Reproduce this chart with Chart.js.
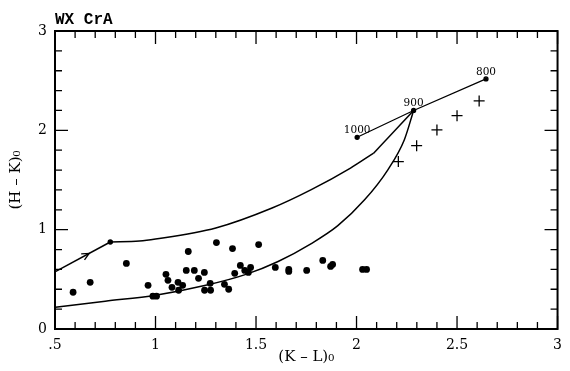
<!DOCTYPE html>
<html>
<head>
<meta charset="utf-8">
<script src="https://cdn.jsdelivr.net/npm/chart.js@4.4.1/dist/chart.umd.min.js"></script>
<style>
  html, body { margin: 0; padding: 0; background: #fff; }
  canvas { display: block; }
</style>
</head>
<body>
<canvas id="chart" width="570" height="371"></canvas>
<script>
// observed colours (filled dots)
const dotKL = [0.59, 0.675, 0.855, 0.963, 0.987, 1.005, 1.052, 1.062, 1.082, 1.112,
               1.115, 1.135, 1.153, 1.163, 1.193, 1.214, 1.243, 1.244, 1.272, 1.274,
               1.303, 1.343, 1.364, 1.383, 1.394, 1.422, 1.444, 1.462, 1.473, 1.513,
               1.596, 1.663, 1.663, 1.752, 1.832, 1.871, 1.881, 2.03, 2.05];
const dotHK = [0.37, 0.47, 0.66, 0.44, 0.33, 0.33, 0.55, 0.49, 0.42, 0.47,
               0.39, 0.44, 0.59, 0.78, 0.59, 0.51, 0.57, 0.39, 0.46, 0.39,
               0.87, 0.45, 0.40, 0.81, 0.56, 0.64, 0.59, 0.57, 0.62, 0.85,
               0.62, 0.60, 0.58, 0.59, 0.69, 0.63, 0.65, 0.60, 0.60];

// crosses
const crossKL = [2.208, 2.299, 2.40, 2.50, 2.61];
const crossHK = [1.685, 1.846, 2.004, 2.148, 2.296];

// temperature line
const tempKL = [2.003, 2.284, 2.644];
const tempHK = [1.93, 2.20, 2.518];
const tempLabels = ['1000', '900', '800'];

// upper track: straight start, smooth middle, straight end
const upStartKL = [0.502, 0.775];
const upStartHK = [0.577, 0.876];
const upMidKL = [0.775, 0.92, 1.0, 1.3, 1.58, 1.775, 1.97, 2.085];
const upMidHK = [0.876, 0.885, 0.905, 1.017, 1.218, 1.403, 1.62, 1.77];
const upEndKL = [2.085, 2.284];
const upEndHK = [1.77, 2.20];

// lower track
const lowKL = [0.502, 0.75, 1.0, 1.25, 1.45, 1.61, 1.775, 1.907, 2.04, 2.155, 2.238, 2.284];
const lowHK = [0.22, 0.28, 0.34, 0.44, 0.55, 0.68, 0.86, 1.04, 1.30, 1.60, 1.906, 2.20];

// arrow on the first segment
const arrowKL = 0.67;
const arrowHK = 0.761;

const xTicks = [0.5, 1, 1.5, 2, 2.5, 3];
const yTicks = [0, 1, 2, 3];

function pts(xs, ys) {
    return xs.map(function (x, i) { return { x: x, y: ys[i] } });
}

function isMajor(list, v) {
    return list.some(function (t) { return Math.abs(t - v) < 1e-6 });
}

const serif = '"DejaVu Serif", serif';

const lineSet = function (xs, ys, extra) {
    return Object.assign({
        data: pts(xs, ys),
        showLine: true,
        borderColor: '#000',
        backgroundColor: '#000',
        borderWidth: 1.5,
        pointRadius: 0,
        tension: 0
    }, extra || {});
};

// frame, inward ticks, labels, arrow
const decorPlugin = {
    id: 'decor',
    afterDatasetsDraw: function (chart) {
        const ctx = chart.ctx;
        const a = chart.chartArea;
        const sx = chart.scales.x, sy = chart.scales.y;
        ctx.save();
        ctx.strokeStyle = '#000';
        ctx.lineWidth = 2;
        ctx.strokeRect(a.left, a.top, a.right - a.left, a.bottom - a.top);

        ctx.lineWidth = 1.3;
        ctx.beginPath();
        sx.ticks.forEach(function (t) {
            const px = sx.getPixelForValue(t.value);
            const len = isMajor(xTicks, t.value) ? 13 : 7;
            ctx.moveTo(px, a.bottom); ctx.lineTo(px, a.bottom - len);
            ctx.moveTo(px, a.top); ctx.lineTo(px, a.top + len);
        });
        sy.ticks.forEach(function (t) {
            const py = sy.getPixelForValue(t.value);
            const len = isMajor(yTicks, t.value) ? 13 : 7;
            ctx.moveTo(a.left, py); ctx.lineTo(a.left + len, py);
            ctx.moveTo(a.right, py); ctx.lineTo(a.right - len, py);
        });
        ctx.stroke();

        // temperature labels
        ctx.fillStyle = '#000';
        ctx.font = '10.5px ' + serif;
        ctx.textAlign = 'center';
        ctx.textBaseline = 'alphabetic';
        tempLabels.forEach(function (lab, i) {
            ctx.fillText(lab, sx.getPixelForValue(tempKL[i]), sy.getPixelForValue(tempHK[i]) - 4);
        });

        // arrow head pointing along the first segment
        const x0 = sx.getPixelForValue(upStartKL[0]), y0 = sy.getPixelForValue(upStartHK[0]);
        const x1 = sx.getPixelForValue(upStartKL[1]), y1 = sy.getPixelForValue(upStartHK[1]);
        const ang = Math.atan2(y1 - y0, x1 - x0);
        const tx = sx.getPixelForValue(arrowKL), ty = sy.getPixelForValue(arrowHK);
        ctx.lineWidth = 1.3;
        ctx.beginPath();
        ctx.moveTo(tx - 8 * Math.cos(ang - 0.45), ty - 8 * Math.sin(ang - 0.45));
        ctx.lineTo(tx, ty);
        ctx.lineTo(tx - 8 * Math.cos(ang + 0.45), ty - 8 * Math.sin(ang + 0.45));
        ctx.stroke();

        // object name
        ctx.textAlign = 'left';
        ctx.font = 'bold 16px "Liberation Mono", monospace';
        ctx.fillText('WX CrA', a.left, 24);
        ctx.restore();
    }
};

new Chart(document.getElementById('chart'), {
    type: 'scatter',
    data: {
        datasets: [
            lineSet(lowKL, lowHK, { cubicInterpolationMode: 'monotone', tension: 0.4 }),
            lineSet(upStartKL, upStartHK, { pointRadius: [0, 2] }),
            lineSet(upMidKL, upMidHK, { cubicInterpolationMode: 'monotone', tension: 0.4 }),
            lineSet(upEndKL, upEndHK),
            lineSet(tempKL, tempHK, { borderWidth: 1.3, pointRadius: 2 }),
            {
                data: pts(crossKL, crossHK),
                pointStyle: 'cross',
                pointRadius: 5.5,
                borderColor: '#000',
                borderWidth: 1.3
            },
            {
                data: pts(dotKL, dotHK),
                pointStyle: 'circle',
                pointRadius: 3.4,
                backgroundColor: '#000',
                borderWidth: 0
            }
        ]
    },
    options: {
        responsive: false,
        animation: false,
        devicePixelRatio: 1,
        layout: { padding: { top: 31, right: 11, left: 0, bottom: 0 } },
        plugins: { legend: { display: false }, tooltip: { enabled: false } },
        scales: {
            x: {
                type: 'linear', min: 0.5, max: 3,
                grid: { display: false, drawTicks: false },
                border: { display: false },
                afterFit: function (s) { s.height = 42 },
                ticks: {
                    stepSize: 0.1, autoSkip: false, maxRotation: 0, padding: 8,
                    color: '#000', font: { family: serif, size: 14 },
                    callback: function (v) {
                        if (!isMajor(xTicks, v)) return '';
                        return v === 0.5 ? '.5' : String(v);
                    }
                },
                title: {
                    display: true, text: '(K – L)₀', color: '#000',
                    font: { family: serif, size: 15 }, padding: { top: 0, bottom: 5 }
                }
            },
            y: {
                type: 'linear', min: 0, max: 3,
                grid: { display: false, drawTicks: false },
                border: { display: false },
                afterFit: function (s) { s.width = 55 },
                ticks: {
                    stepSize: 0.2, autoSkip: false, padding: 8,
                    color: '#000', font: { family: serif, size: 14 },
                    callback: function (v) {
                        return isMajor(yTicks, v) ? String(Math.round(v)) : '';
                    }
                },
                title: {
                    display: true, text: '(H – K)₀', color: '#000',
                    font: { family: serif, size: 15 }, padding: { top: 7, bottom: 0 }
                }
            }
        }
    },
    plugins: [decorPlugin]
});
</script>
</body>
</html>
